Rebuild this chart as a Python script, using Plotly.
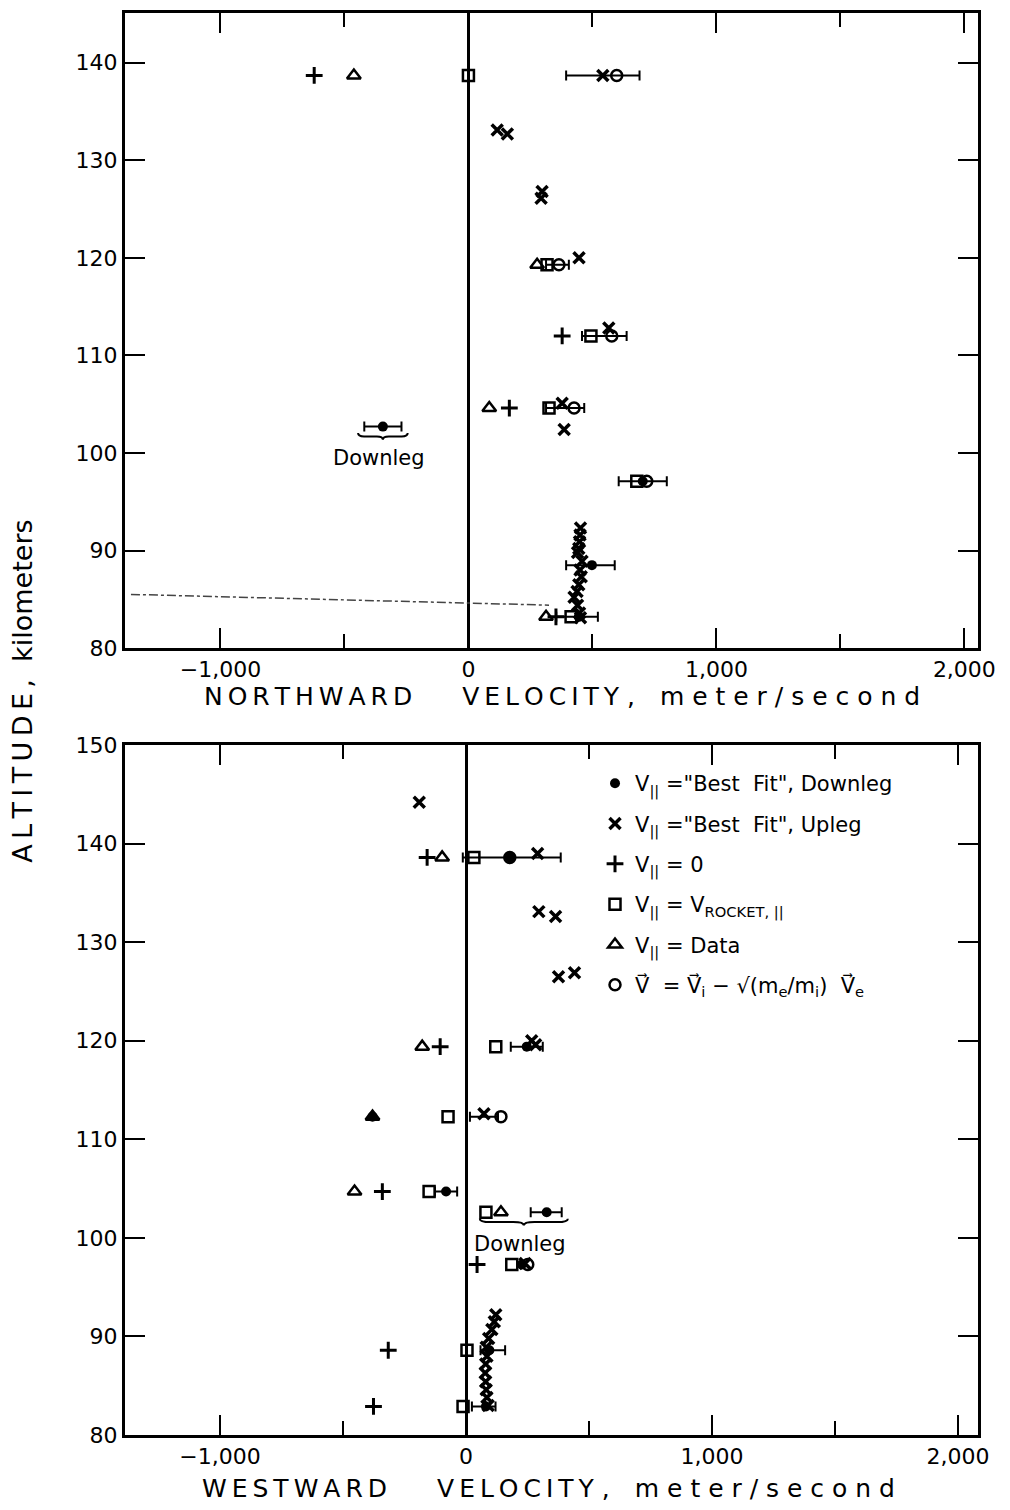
import plotly.graph_objects as go

# ---------------- Northward velocity (upper panel) ----------------
# altitude in km, velocity in m/s
n_downleg_alt = [102.7, 97.1, 88.5, 83.2]
n_downleg_vel = [-345, 703, 498, 445]

n_upleg_alt = [138.7, 133.1, 132.7, 126.8, 126.1, 120.0, 112.8, 105.1, 102.4,
               92.3, 91.6, 90.9, 90.2, 89.8, 88.9, 88.0, 87.3, 86.5, 85.8, 85.2,
               84.4, 83.6, 83.1]
n_upleg_vel = [542, 116, 157, 297, 293, 446, 566, 378, 386,
               452, 450, 448, 445, 440, 458, 450, 455, 445, 438, 426,
               440, 448, 452]

n_zero_alt = [138.7, 112.0, 104.6, 83.2]
n_zero_vel = [-622, 378, 165, 353]

n_rocket_alt = [138.7, 119.3, 112.0, 104.6, 97.1, 83.2]
n_rocket_vel = [0, 317, 494, 325, 679, 414]

n_data_alt = [138.7, 119.3, 104.6, 83.2]
n_data_vel = [-462, 277, 84, 313]

n_vec_alt = [138.7, 119.3, 112.0, 104.6, 97.1]
n_vec_vel = [598, 365, 578, 426, 719]

n_err_alt = [138.7, 119.3, 112.0, 104.6, 102.7, 97.1, 88.5, 83.2]
n_err_mid = [542, 359, 548, 390, -345, 703, 492, 438]
n_err_half = [148, 46, 90, 77, 75, 97, 98, 84]

n_downleg_row = 102.7

# ---------------- Westward velocity (lower panel) ----------------
w_downleg_alt = [138.6, 119.4, 112.3, 104.7, 102.6, 97.3, 88.6, 82.9]
w_downleg_vel = [178, 247, -380, -81, 328, 227, 95, 81]

w_upleg_alt = [144.2, 139.0, 133.1, 132.6, 126.9, 126.5, 120.0, 119.6, 112.6,
               97.4, 92.2, 91.5, 90.7, 89.8, 88.9, 88.0, 87.2, 86.3, 85.4, 84.6,
               83.8, 83.0]
w_upleg_vel = [-190, 291, 296, 364, 441, 376, 267, 283, 73,
               240, 121, 115, 105, 92, 82, 85, 80, 78, 80, 82,
               85, 90]

w_zero_alt = [138.6, 119.4, 104.7, 97.3, 88.6, 82.9]
w_zero_vel = [-158, -105, -340, 45, -316, -376]

w_rocket_alt = [138.6, 119.4, 112.3, 104.7, 102.6, 97.3, 88.6, 82.9]
w_rocket_vel = [32, 121, -73, -150, 81, 186, 4, -12]

w_data_alt = [138.6, 119.4, 112.3, 104.7, 102.6]
w_data_vel = [-97, -178, -380, -453, 142]

w_vec_alt = [138.6, 112.3, 97.3]
w_vec_vel = [178, 142, 251]

w_err_alt = [138.6, 119.4, 112.3, 104.7, 102.6, 88.6, 82.9]
w_err_mid = [186, 247, 73, -81, 326, 109, 72]
w_err_half = [199, 65, 57, 45, 63, 50, 48]

w_downleg_row = 102.6

x_tickvals = [-1000, 0, 1000, 2000]
x_ticktext = ["\u22121,000", "0", "1,000", "2,000"]
x_minor_ticks = [-500, 500, 1500]
n_y_ticks = [80, 90, 100, 110, 120, 130, 140]
w_y_ticks = [80, 90, 100, 110, 120, 130, 140, 150]

FONT = "DejaVu Sans"
THIN = "\u2009"
EM = "\u2003"


def spaced(word, gap=THIN):
    return gap.join(word)


V = "V<sub>||</sub>"
VEC = "V\u20d7"
series_style = [
    ("Best fit downleg", V + ' ="Best  Fit", Downleg',
     dict(symbol="circle", size=10, color="black")),
    ("Best fit upleg", V + ' ="Best  Fit", Upleg',
     dict(symbol="x-thin", size=11, color="black", line=dict(width=3.5, color="black"))),
    ("Zero", V + " = 0",
     dict(symbol="cross-thin", size=12, color="black", line=dict(width=3, color="black"))),
    ("Rocket", V + " = V<sub>ROCKET, ||</sub>",
     dict(symbol="square-open", size=11, color="black", line=dict(width=2.5, color="black"))),
    ("Data", V + " = Data",
     dict(symbol="triangle-up-open", size=12, color="black", line=dict(width=2.5, color="black"))),
    ("Vector", VEC + "  = " + VEC + "<sub>i</sub> \u2212 \u221a(m<sub>e</sub>/m<sub>i</sub>)  " + VEC + "<sub>e</sub>",
     dict(symbol="circle-open", size=11, color="black", line=dict(width=2.5, color="black"))),
]

panels = [
    dict(xa="x", ya="y",
         series=[(n_downleg_alt, n_downleg_vel), (n_upleg_alt, n_upleg_vel),
                 (n_zero_alt, n_zero_vel), (n_rocket_alt, n_rocket_vel),
                 (n_data_alt, n_data_vel), (n_vec_alt, n_vec_vel)],
         err=(n_err_alt, n_err_mid, n_err_half), row=n_downleg_row, legend=False),
    dict(xa="x2", ya="y2",
         series=[(w_downleg_alt, w_downleg_vel), (w_upleg_alt, w_upleg_vel),
                 (w_zero_alt, w_zero_vel), (w_rocket_alt, w_rocket_vel),
                 (w_data_alt, w_data_vel), (w_vec_alt, w_vec_vel)],
         err=(w_err_alt, w_err_mid, w_err_half), row=w_downleg_row, legend=True),
]

fig = go.Figure()
shapes = []
annotations = []

for p in panels:
    ea, em, eh = p["err"]
    # horizontal uncertainty bars
    fig.add_trace(go.Scatter(
        x=em, y=ea, mode="markers", xaxis=p["xa"], yaxis=p["ya"],
        marker=dict(size=1, opacity=0), showlegend=False, hoverinfo="skip",
        error_x=dict(type="data", array=eh, symmetric=True, color="black",
                     thickness=2, width=5)))
    for (alt, vel), (key, label, mk) in zip(p["series"], series_style):
        fig.add_trace(go.Scatter(
            x=vel, y=alt, mode="markers", xaxis=p["xa"], yaxis=p["ya"],
            marker=mk, name=label, legendgroup=key, showlegend=p["legend"]))

    # brace + "Downleg" label under the downleg row
    row = p["row"]
    vals = []
    for alt, vel in p["series"]:
        vals += [v for a, v in zip(alt, vel) if abs(a - row) < 0.15]
    for a, m, h in zip(ea, em, eh):
        if abs(a - row) < 0.15:
            vals += [m - h, m + h]
    x0, x1 = min(vals) - 25, max(vals) + 25
    xm = 0.5 * (x0 + x1)
    w = 0.12 * (x1 - x0)
    y0 = row - 1.0
    hgt = 0.35
    path = (f"M {x0},{y0 + hgt} Q {x0},{y0} {x0 + w},{y0} L {xm - w},{y0} "
            f"Q {xm},{y0} {xm},{y0 - hgt} Q {xm},{y0} {xm + w},{y0} "
            f"L {x1 - w},{y0} Q {x1},{y0} {x1},{y0 + hgt}")
    shapes.append(dict(type="path", path=path, xref=p["xa"], yref=p["ya"],
                       line=dict(color="black", width=2)))
    annotations.append(dict(text="Downleg", x=xm - 15, y=y0 - 0.8, xref=p["xa"], yref=p["ya"],
                            showarrow=False, yanchor="top", xanchor="center",
                            font=dict(family=FONT, size=21, color="black")))

# faint dashed pencil stroke across the upper panel
shapes.append(dict(type="line", xref="x", yref="y", x0=-1361, y0=85.5, x1=325, y1=84.4,
                   line=dict(color="#444", width=1.5, dash="dashdot")))

axis_common = dict(ticks="inside", ticklen=20, tickwidth=2, tickcolor="black",
                   showline=True, linewidth=3, linecolor="black", mirror="ticks",
                   showgrid=False, automargin=False,
                   tickfont=dict(family=FONT, size=22, color="black"))
x_minor = dict(tickvals=x_minor_ticks, ticks="inside", ticklen=14, tickwidth=2,
               tickcolor="black", showgrid=False)

fig.update_layout(
    template="none",
    width=1010, height=1510,
    margin=dict(l=125, r=32, t=13, b=75, pad=0),
    paper_bgcolor="white", plot_bgcolor="white",
    font=dict(family=FONT, size=22, color="black"),
    xaxis=dict(domain=[0, 1], anchor="y", range=[-1385, 2055],
               tickvals=x_tickvals, ticktext=x_ticktext, minor=x_minor,
               zeroline=True, zerolinewidth=2.5, zerolinecolor="black", **axis_common),
    yaxis=dict(domain=[0.5534, 1], anchor="x", range=[80, 145.1],
               tickvals=n_y_ticks, zeroline=False, **axis_common),
    xaxis2=dict(domain=[0, 1], anchor="y2", range=[-1386, 2081],
                tickvals=x_tickvals, ticktext=x_ticktext, minor=x_minor,
                zeroline=True, zerolinewidth=2.5, zerolinecolor="black", **axis_common),
    yaxis2=dict(domain=[0, 0.4852], anchor="x2", range=[80, 150],
                tickvals=w_y_ticks, zeroline=False, **axis_common),
    showlegend=True,
    legend=dict(x=0.551, y=0.4725, xanchor="left", yanchor="top",
                bgcolor="rgba(0,0,0,0)", borderwidth=0,
                font=dict(family=FONT, size=21, color="black"),
                tracegroupgap=10, itemwidth=30),
    shapes=shapes,
)

title_font = dict(family=FONT, size=25, color="black")
tail = " ," + EM + spaced("meter/second", " ")
n_title = spaced("NORTHWARD") + EM + EM + spaced("VELOCITY") + tail
w_title = spaced("WESTWARD") + EM + EM + spaced("VELOCITY") + tail
annotations += [
    dict(text=n_title, x=0.512, y=0.519, xref="paper", yref="paper",
         xanchor="center", yanchor="middle", showarrow=False, font=title_font),
    dict(text=w_title, x=0.496, y=-0.0373, xref="paper", yref="paper",
         xanchor="center", yanchor="middle", showarrow=False, font=title_font),
    dict(text=spaced("ALTITUDE,") + "  kilometers", x=-0.1196, y=0.5233,
         xref="paper", yref="paper", xanchor="center", yanchor="middle",
         showarrow=False, textangle=-90, font=dict(family=FONT, size=27, color="black")),
]
fig.update_layout(annotations=annotations)

fig.write_html("out.html")
